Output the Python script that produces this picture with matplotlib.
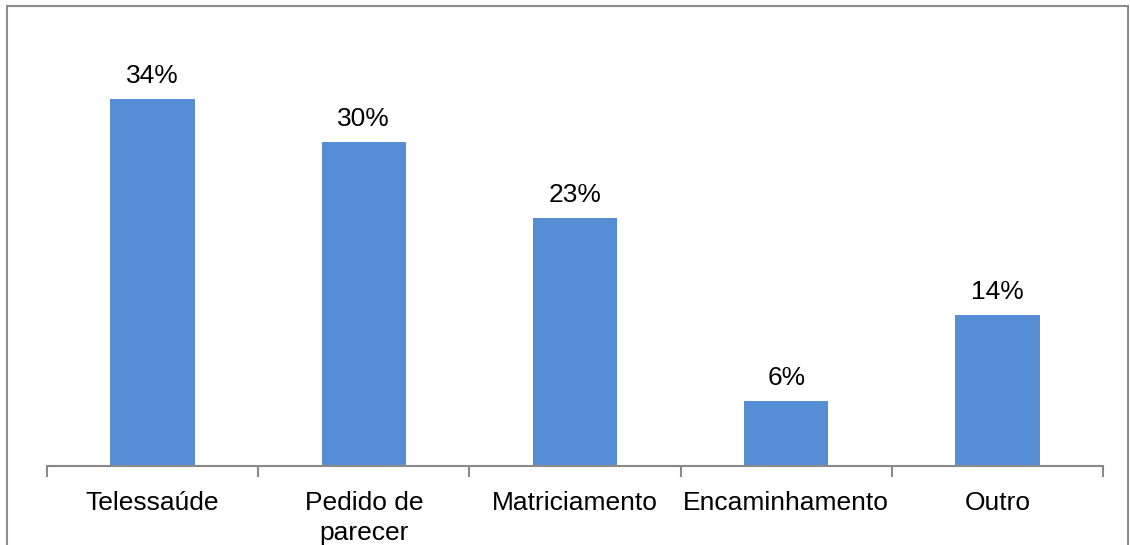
import matplotlib.pyplot as plt
from matplotlib.patches import Rectangle

categorias = ['Telessaúde', 'Pedido de\nparecer', 'Matriciamento', 'Encaminhamento', 'Outro']
valores = [34, 30, 23, 6, 14]

plt.rcParams['font.family'] = ['Liberation Sans', 'DejaVu Sans']

fig = plt.figure(figsize=(11.3, 5.45), dpi=100)
ax = fig.add_axes([0.0416, 0.145, 0.9345, 0.7926])

pos = range(len(categorias))
barras = ax.bar(pos, valores, width=0.4, color='#558ED5')

for b, v in zip(barras, valores):
    ax.text(b.get_x() + b.get_width() / 2, v + 1.0, f'{v}%',
            ha='center', va='bottom', fontsize=19, color='black')

ax.set_xlim(-0.5, len(categorias) - 0.5)
ax.set_ylim(0, 40)

# rótulos no centro, marcas de divisão entre categorias
ax.set_xticks(list(pos))
ax.set_xticklabels(categorias, fontsize=19, linespacing=1.3)
ax.set_xticks([i - 0.5 for i in range(len(categorias) + 1)], minor=True)
ax.tick_params(axis='x', which='major', length=0, pad=18)
ax.tick_params(axis='x', which='minor', length=8, width=1.5, color='#898989')
ax.set_yticks([])

for s in ['left', 'right', 'top']:
    ax.spines[s].set_visible(False)
ax.spines['bottom'].set_color('#898989')
ax.spines['bottom'].set_linewidth(1.5)

# moldura do gráfico
fig.patches.append(Rectangle((7 / 1130, -0.05), 1121 / 1130, 1.05 - 6 / 545,
                             transform=fig.transFigure, fill=False,
                             edgecolor='#8c8c8c', linewidth=1.5))

fig.savefig('out.png', dpi=100)
